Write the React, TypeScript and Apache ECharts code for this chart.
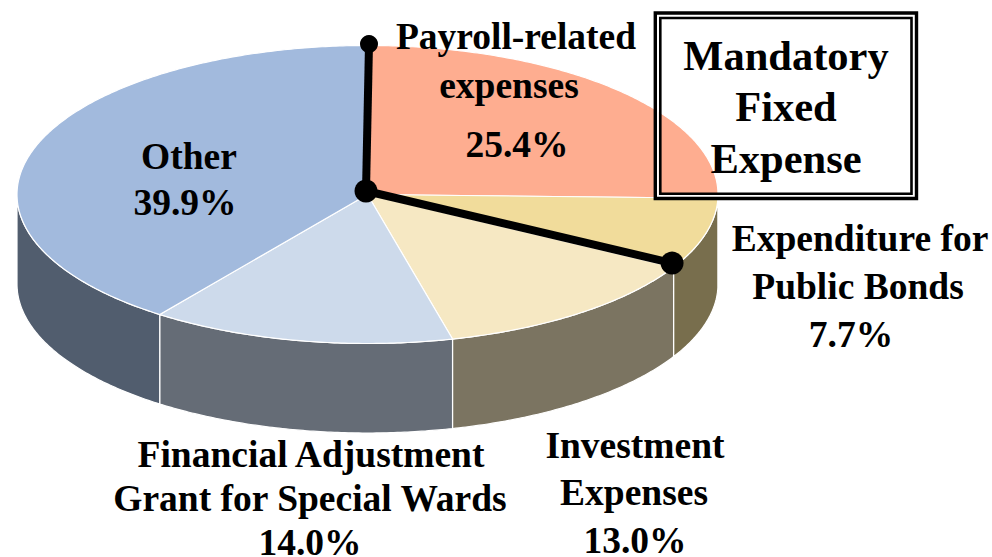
import React, { useEffect, useRef } from "react";
import * as echarts from "echarts";

const categories = ["Payroll-related expenses", "Expenditure for Public Bonds", "Investment Expenses", "Financial Adjustment Grant for Special Wards", "Other"];
const shares = [25.4, 7.7, 13.0, 14.0, 39.9];
const topColors = ["#FEAD90", "#F1DC9B", "#F6E8C3", "#CDDAEB", "#A2BADD"];
const wallColors = ["#7A704F", "#786E4D", "#7B7461", "#656C76", "#515D6E"];
const boxLines = ["Mandatory", "Fixed", "Expense"];
const payrollLabel = ["Payroll-related", "expenses", "25.4%"];
const bondsLabel = ["Expenditure for", "Public Bonds", "7.7%"];
const investLabel = ["Investment", "Expenses", "13.0%"];
const grantLabel = ["Financial Adjustment", "Grant for Special Wards", "14.0%"];
const otherLabel = ["Other", "39.9%"];
// last slice of the "Mandatory Fixed Expense" group (payroll + bonds)
const mandatoryCount = 2;

const CX = 367.5, CY = 194.5, RX = 350.5, RY = 149, DEPTH = 89.5;
const total = shares.reduce((a, b) => a + b, 0);
let running = 0;
const sliceRows = shares.map((v, i) => {
  const start = running;
  running += v;
  return [start, running, i];
});
const toAngle = (share: number) => (share / total) * Math.PI * 2;
const rim = (a: number, dy = 0) => [CX + RX * Math.sin(a), CY - RY * Math.cos(a) + dy];
const arcPoints = (a0: number, a1: number, dy = 0) => {
  const n = Math.max(2, Math.ceil((a1 - a0) / 0.01));
  const out: number[][] = [];
  for (let k = 0; k <= n; k++) out.push(rim(a0 + ((a1 - a0) * k) / n, dy));
  return out;
};

const renderWall = (_p: any, api: any) => {
  const a0 = Math.max(toAngle(api.value(0)), Math.PI / 2);
  const a1 = Math.min(toAngle(api.value(1)), (Math.PI * 3) / 2);
  if (a1 <= a0) return null;
  const pts = [...arcPoints(a0, a1), ...arcPoints(a0, a1, DEPTH).reverse()];
  return {
    type: "polygon",
    shape: { points: pts },
    style: { fill: wallColors[api.value(2)], stroke: "#FFFFFF", lineWidth: 1.2 },
  };
};

const renderTop = (_p: any, api: any) => {
  const pts = [[CX, CY], ...arcPoints(toAngle(api.value(0)), toAngle(api.value(1)))];
  return {
    type: "polygon",
    shape: { points: pts },
    style: { fill: topColors[api.value(2)], stroke: "#FFFFFF", lineWidth: 1.2 },
  };
};

const renderLeaders = (_p: any, api: any) => {
  const hub = [CX - 1.5, CY - 3.5];
  const first = rim(toAngle(api.value(0)));
  const last = rim(toAngle(api.value(1)));
  const a = [first[0] + 1.5, first[1] - 1.5];
  const b = [last[0] - 1.5, last[1] - 4];
  const seg = (p: number[]) => ({
    type: "line",
    shape: { x1: hub[0], y1: hub[1], x2: p[0], y2: p[1] },
    style: { stroke: "#000000", lineWidth: 8 },
  });
  const dot = (p: number[], r: number) => ({
    type: "circle",
    shape: { cx: p[0], cy: p[1], r },
    style: { fill: "#000000" },
  });
  return { type: "group", children: [seg(a), seg(b), dot(a, 9), dot(b, 11.5), dot(hub, 11.5)] };
};

const FONT = '"Liberation Serif", "Times New Roman", serif';
const textEl = (text: string, x: number, y: number, size = 37.5) => ({
  type: "text",
  z: 100,
  x,
  y,
  style: { text, x: 0, y: 0, fill: "#000000", font: `bold ${size}px ${FONT}`, lineHeight: 28, textAlign: "center", textVerticalAlign: "middle" },
});
const place = (lines: string[], xs: number[], ys: number[], size = 37.5) => lines.map((t, i) => textEl(t, xs[i], ys[i], size));
const frame = (x: number, y: number, x2: number, y2: number, stroke: string, lineWidth: number) => ({
  type: "rect",
  z: 90,
  shape: { x, y, width: x2 - x, height: y2 - y },
  style: { fill: "none", stroke, lineWidth },
});

const option: any = {
  animation: false,
  backgroundColor: "#FFFFFF",
  series: [
    { type: "custom", name: "walls", coordinateSystem: "none", silent: true, z: 2, renderItem: renderWall, data: sliceRows },
    { type: "custom", name: "tops", coordinateSystem: "none", silent: true, z: 3, renderItem: renderTop, data: sliceRows.map((r, i) => ({ value: r, name: categories[i] })) },
    {
      type: "custom",
      name: "leaders",
      coordinateSystem: "none",
      silent: true,
      z: 4,
      renderItem: renderLeaders,
      data: [[0, sliceRows[mandatoryCount - 1][1]]],
    },
  ],
  graphic: [
    frame(657.8, 15.5, 914, 196, "#FFFFFF", 2),
    frame(655.3, 13, 916.5, 198.5, "#000000", 3.4),
    frame(660.3, 18, 911.5, 193.7, "#000000", 2.6),
    ...place(boxLines, [786, 786, 786], [55.5, 106.5, 158.5], 42.5),
    ...place(payrollLabel, [516, 509, 517], [36, 85, 144]),
    ...place(bondsLabel, [860, 858, 851], [238, 286, 334]),
    ...place(investLabel, [635, 634, 635], [445, 492, 540]),
    ...place(grantLabel, [311, 310, 310], [454, 498, 542]),
    ...place(otherLabel, [189, 185], [156, 202]),
  ],
};

export default function App() {
  const ref = useRef<HTMLDivElement>(null);
  useEffect(() => {
    const chart = echarts.init(ref.current!, undefined, { renderer: "svg" });
    chart.setOption(option);
    return () => chart.dispose();
  }, []);
  return <div ref={ref} style={{ position: "absolute", left: 0, top: 0, width: 992, height: 557 }} />;
}
